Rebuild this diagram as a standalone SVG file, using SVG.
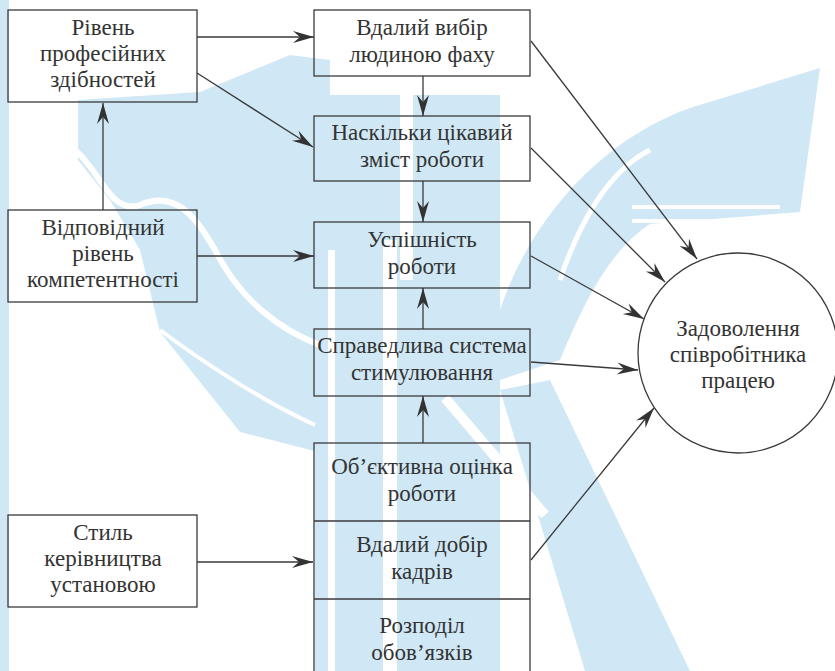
<svg xmlns="http://www.w3.org/2000/svg" width="835" height="671" viewBox="0 0 835 671">
<defs>
<style>
.wm{fill:#d0e8f5}
.wl{fill:none;stroke:#ffffff}
.box{fill:none;stroke:#3a3a3a;stroke-width:1.3}
.c{fill:none;stroke:#3a3a3a;stroke-width:1.3}
text{font-family:'Liberation Serif','DejaVu Serif',serif;font-size:23px;fill:#333;text-anchor:middle}
</style>
<marker id="ah" markerUnits="userSpaceOnUse" markerWidth="24" markerHeight="14" viewBox="-23 -7 24 14" refX="0" refY="0" orient="auto">
<path d="M0,0 L-21,-6 L-14,0 L-21,6 Z" fill="#333"/>
</marker>
</defs>
<rect width="835" height="671" fill="#ffffff"/>
<g id="watermark">
<rect class="wm" x="0" y="0" width="9" height="671"/>
<path class="wm" d="M78,100 L200,92 L290,55 L330,60 L330,455 L240,432 L160,332 L140,250 L110,200 L78,160 Z"/>
<rect class="wm" x="315" y="95" width="185" height="576"/>
<path class="wm" d="M500,310 C530,220 600,140 690,108 L820,68 L800,212 L650,224 C610,250 585,300 560,360 L500,380 Z"/>
<path class="wm" d="M500,390 L550,380 L690,671 L585,671 Z"/>
<path class="wl" stroke-width="6" d="M75,150 C100,170 110,215 140,205 C175,190 195,215 215,250 C240,300 280,330 320,345"/>
<path class="wl" stroke-width="4" d="M160,330 C200,360 260,400 315,425"/>
<path class="wl" stroke-width="10" d="M445,398 L545,515"/>
<path class="wl" stroke-width="4" d="M632,207 H780 M632,221 H780"/>
<path class="wl" stroke-width="5" d="M650,150 C610,170 580,220 560,280"/>
<rect x="328" y="250" width="7" height="421" fill="#fff"/>
<rect x="383" y="240" width="14" height="431" fill="#fff"/>
<rect x="400" y="80" width="13" height="200" fill="#fff"/>
</g>
<g id="connectors">
<path class="c" marker-end="url(#ah)" d="M197,37 H314"/>
<path class="c" marker-end="url(#ah)" d="M197,73 L313,147"/>
<path class="c" marker-end="url(#ah)" d="M103,210 V103"/>
<path class="c" marker-end="url(#ah)" d="M197,256 H314"/>
<path class="c" marker-end="url(#ah)" d="M423,76 V116"/>
<path class="c" marker-end="url(#ah)" d="M423,181 V222"/>
<path class="c" marker-end="url(#ah)" d="M423,329 V288"/>
<path class="c" marker-end="url(#ah)" d="M423,443 V396"/>
<path class="c" marker-end="url(#ah)" d="M197,562 H313"/>
<path class="c" marker-end="url(#ah)" d="M531,41 L697,259"/>
<path class="c" marker-end="url(#ah)" d="M531,148 L665,282"/>
<path class="c" marker-end="url(#ah)" d="M531,256 L644,319"/>
<path class="c" marker-end="url(#ah)" d="M531,362 L638,370"/>
<path class="c" marker-end="url(#ah)" d="M531,560 L654,408"/>
</g>
<g id="n-prof">
<rect class="box" x="8" y="10" width="189" height="92"/>
<text x="103" y="35">Рівень</text>
<text x="103" y="61">професійних</text>
<text x="103" y="87">здібностей</text>
</g>
<g id="n-komp">
<rect class="box" x="8" y="210" width="189" height="92"/>
<text x="103" y="235">Відповідний</text>
<text x="103" y="261">рівень</text>
<text x="103" y="287">компетентності</text>
</g>
<g id="n-styl">
<rect class="box" x="8" y="515" width="189" height="92"/>
<text x="103" y="540">Стиль</text>
<text x="103" y="566">керівництва</text>
<text x="103" y="592">установою</text>
</g>
<g id="n-fakh">
<rect class="box" x="314" y="10" width="216" height="66"/>
<text x="422" y="35">Вдалий вибір</text>
<text x="422" y="62">людиною фаху</text>
</g>
<g id="n-zmist">
<rect class="box" x="314" y="116" width="216" height="65"/>
<text x="422" y="140">Наскільки цікавий</text>
<text x="422" y="167">зміст роботи</text>
</g>
<g id="n-uspih">
<rect class="box" x="314" y="222" width="216" height="66"/>
<text x="422" y="247">Успішність</text>
<text x="422" y="274">роботи</text>
</g>
<g id="n-stym">
<rect class="box" x="314" y="329" width="216" height="67"/>
<text x="422" y="353">Справедлива система</text>
<text x="422" y="380">стимулювання</text>
</g>
<g id="n-stack">
<rect class="box" x="314" y="443" width="216" height="240"/>
<path class="box" d="M314,521 H530 M314,599 H530"/>
<text x="422" y="474">Об’єктивна оцінка</text>
<text x="422" y="501">роботи</text>
<text x="422" y="552">Вдалий добір</text>
<text x="422" y="579">кадрів</text>
<text x="422" y="633">Розподіл</text>
<text x="422" y="660">обов’язків</text>
</g>
<g id="n-zadov">
<circle class="box" cx="738" cy="353" r="100"/>
<text x="738" y="336">Задоволення</text>
<text x="738" y="362">співробітника</text>
<text x="738" y="388">працею</text>
</g>
</svg>
